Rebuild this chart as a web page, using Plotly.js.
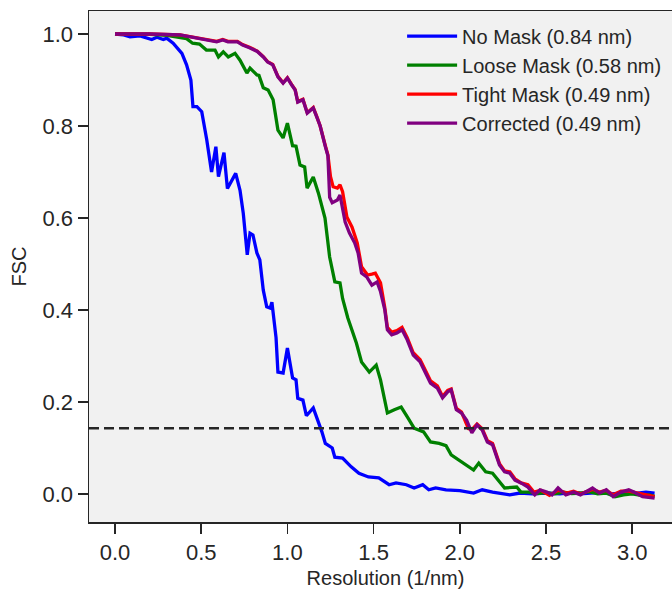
<!DOCTYPE html>
<html>
<head>
<meta charset="utf-8">
<script src="https://cdn.plot.ly/plotly-3.0.1.min.js"></script>
<style>
html,body{margin:0;padding:0;overflow:hidden;background:#fff;}
#chart{width:682px;height:590px;}
</style>
</head>
<body>
<div id="chart"></div>
<script>
// ---- Data ----
const seriesNames = ["No Mask (0.84 nm)", "Loose Mask (0.58 nm)", "Tight Mask (0.49 nm)", "Corrected (0.49 nm)"];

const noMaskX = [0,0.05,0.087,0.145,0.213,0.243,0.28,0.30,0.337,0.388,0.415,0.44,0.452,0.475,0.503,0.532,0.56,0.585,0.60,0.632,0.652,0.70,0.725,0.744,0.767,0.783,0.80,0.823,0.84,0.86,0.88,0.90,0.91,0.934,0.945,0.975,1.0,1.03,1.05,1.06,1.09,1.11,1.15,1.18,1.20,1.22,1.26,1.275,1.32,1.37,1.415,1.47,1.53,1.59,1.63,1.69,1.735,1.785,1.82,1.86,1.92,2.0,2.08,2.13,2.19,2.29,2.35,2.42,2.5,2.58,2.65,2.72,2.8,2.88,2.95,3.02,3.08,3.13];
const noMaskY = [1.0,0.998,0.994,0.996,0.988,0.993,0.988,0.991,0.98,0.958,0.933,0.90,0.842,0.842,0.831,0.77,0.70,0.755,0.69,0.742,0.664,0.697,0.66,0.61,0.52,0.567,0.563,0.524,0.509,0.443,0.407,0.404,0.417,0.34,0.265,0.263,0.317,0.252,0.248,0.208,0.204,0.17,0.187,0.157,0.135,0.11,0.10,0.08,0.078,0.059,0.045,0.037,0.035,0.02,0.024,0.02,0.013,0.02,0.009,0.013,0.009,0.007,0.002,0.009,0.004,-0.002,0.002,0.0,0.002,0.0,0.003,0.001,0.003,0.0,0.002,0.001,0.004,0.002];

const looseX = [0,0.1,0.2,0.3,0.39,0.415,0.45,0.49,0.53,0.58,0.60,0.628,0.657,0.696,0.725,0.765,0.783,0.823,0.835,0.86,0.888,0.917,0.945,0.975,1.0,1.03,1.05,1.073,1.10,1.114,1.15,1.18,1.218,1.245,1.275,1.305,1.32,1.35,1.40,1.43,1.475,1.515,1.54,1.58,1.62,1.66,1.70,1.735,1.79,1.83,1.88,1.92,1.95,1.995,2.04,2.08,2.11,2.15,2.19,2.23,2.26,2.33,2.355,2.40,2.45,2.50,2.55,2.60,2.65,2.70,2.75,2.80,2.85,2.90,2.95,3.00,3.05,3.10,3.13];
const looseY = [1.0,1.0,0.999,0.997,0.992,0.99,0.98,0.978,0.965,0.965,0.95,0.961,0.95,0.958,0.943,0.915,0.926,0.911,0.91,0.883,0.878,0.857,0.791,0.774,0.806,0.757,0.756,0.715,0.711,0.665,0.689,0.654,0.60,0.515,0.461,0.459,0.425,0.383,0.328,0.287,0.265,0.28,0.248,0.176,0.183,0.189,0.165,0.143,0.135,0.113,0.11,0.105,0.085,0.074,0.062,0.052,0.067,0.048,0.045,0.026,0.013,0.015,0.004,0.004,0.001,0.003,0.0,0.004,0.001,0.002,0.005,0.0,0.002,-0.006,-0.002,0.0,-0.003,-0.002,-0.005];

const tightX = [0,0.2,0.377,0.49,0.55,0.59,0.625,0.655,0.71,0.74,0.78,0.825,0.86,0.885,0.915,0.945,0.975,1.0,1.025,1.045,1.06,1.09,1.115,1.15,1.17,1.19,1.22,1.235,1.25,1.265,1.29,1.305,1.32,1.345,1.375,1.405,1.43,1.465,1.49,1.51,1.54,1.565,1.58,1.605,1.635,1.665,1.695,1.73,1.77,1.80,1.83,1.87,1.90,1.93,1.95,1.98,2.01,2.05,2.07,2.10,2.13,2.16,2.19,2.23,2.26,2.29,2.32,2.355,2.395,2.43,2.47,2.52,2.57,2.62,2.66,2.70,2.77,2.81,2.85,2.89,2.935,2.98,3.03,3.06,3.13];
const tightY = [1.0,1.0,0.998,0.991,0.988,0.984,0.988,0.984,0.984,0.977,0.971,0.963,0.951,0.94,0.934,0.908,0.894,0.905,0.89,0.879,0.853,0.858,0.829,0.84,0.821,0.80,0.757,0.737,0.69,0.668,0.665,0.672,0.657,0.602,0.58,0.546,0.494,0.476,0.478,0.48,0.459,0.405,0.362,0.352,0.355,0.362,0.34,0.307,0.292,0.27,0.246,0.235,0.212,0.225,0.228,0.186,0.178,0.142,0.14,0.152,0.142,0.116,0.11,0.066,0.05,0.048,0.033,0.024,0.02,0.004,0.008,-0.003,0.008,0.002,0.006,0.0,0.01,0.004,0.008,-0.002,0.006,0.006,0.002,-0.002,-0.006];

const correctedX = [0,0.2,0.377,0.49,0.55,0.59,0.625,0.655,0.71,0.74,0.78,0.825,0.86,0.885,0.915,0.945,0.975,1.0,1.025,1.045,1.06,1.09,1.115,1.15,1.17,1.19,1.22,1.235,1.245,1.26,1.29,1.305,1.335,1.36,1.39,1.41,1.43,1.46,1.49,1.52,1.54,1.565,1.58,1.605,1.635,1.665,1.695,1.73,1.77,1.80,1.83,1.87,1.90,1.93,1.95,1.98,2.01,2.04,2.07,2.10,2.13,2.16,2.19,2.23,2.26,2.29,2.32,2.355,2.395,2.435,2.465,2.505,2.535,2.57,2.615,2.66,2.70,2.77,2.81,2.85,2.89,2.935,2.98,3.01,3.06,3.13];
const correctedY = [1.0,1.0,0.998,0.99,0.987,0.983,0.987,0.983,0.983,0.976,0.97,0.962,0.95,0.939,0.933,0.907,0.893,0.904,0.889,0.878,0.852,0.857,0.828,0.839,0.82,0.80,0.755,0.735,0.645,0.633,0.639,0.65,0.591,0.567,0.546,0.524,0.48,0.472,0.454,0.461,0.44,0.40,0.357,0.346,0.35,0.357,0.335,0.302,0.287,0.265,0.241,0.23,0.209,0.222,0.226,0.183,0.176,0.16,0.133,0.15,0.139,0.113,0.107,0.063,0.048,0.045,0.03,0.024,0.015,-0.002,0.009,0.004,-0.002,0.013,-0.002,0.004,-0.002,0.013,0.002,0.009,-0.006,0.004,0.009,0.004,-0.006,-0.009];

const threshold = 0.143;
const colors = ["#0000ff", "#008000", "#ff0000", "#800080"];

const xs = [noMaskX, looseX, tightX, correctedX];
const ys = [noMaskY, looseY, tightY, correctedY];

const traces = seriesNames.map((name, i) => ({
  type: 'scatter', mode: 'lines', name: name,
  x: xs[i], y: ys[i],
  line: {color: colors[i], width: 3.3},
  legendgroup: 'g' + i
}));

const fontFamily = '"Liberation Sans", Arial, sans-serif';
const axisColor = '#262626';

const layout = {
  width: 682, height: 590,
  margin: {l: 89, r: 0, t: 11, b: 68, pad: 0},
  paper_bgcolor: '#ffffff',
  plot_bgcolor: '#f1f1f1',
  font: {family: fontFamily, color: axisColor},
  showlegend: true,
  legend: {
    x: 0.528, y: 0.989, xanchor: 'left', yanchor: 'top',
    bgcolor: 'rgba(0,0,0,0)', borderwidth: 0,
    font: {size: 20, color: axisColor, family: fontFamily},
    tracegroupgap: 0, itemwidth: 50
  },
  xaxis: {
    range: [-0.151, 3.289],
    tickvals: [0, 0.5, 1.0, 1.5, 2.0, 2.5, 3.0],
    ticktext: ['0.0', '0.5', '1.0', '1.5', '2.0', '2.5', '3.0'],
    ticks: 'outside', ticklen: 10, tickwidth: 1.5, tickcolor: axisColor,
    showline: true, linecolor: axisColor, linewidth: 1.5, mirror: true,
    showgrid: false, zeroline: false,
    tickfont: {size: 22, color: axisColor},
    title: {text: 'Resolution (1/nm)', font: {size: 20, color: axisColor}, standoff: 7}
  },
  yaxis: {
    range: [-0.061, 1.05],
    tickvals: [0, 0.2, 0.4, 0.6, 0.8, 1.0],
    ticktext: ['0.0', '0.2', '0.4', '0.6', '0.8', '1.0'],
    ticks: 'outside', ticklen: 10, tickwidth: 1.5, tickcolor: axisColor,
    showline: true, linecolor: axisColor, linewidth: 1.5, mirror: true,
    showgrid: false, zeroline: false,
    tickfont: {size: 22, color: axisColor},
    title: {text: 'FSC', font: {size: 20, color: axisColor}, standoff: 10}
  },
  shapes: [{
    type: 'line', xref: 'paper', x0: 0, x1: 1, yref: 'y', y0: threshold, y1: threshold,
    line: {color: axisColor, width: 2.5, dash: '10px,5px'}, layer: 'above'
  }]
};

Plotly.newPlot('chart', traces, layout, {displayModeBar: false, staticPlot: true});
</script>
</body>
</html>
